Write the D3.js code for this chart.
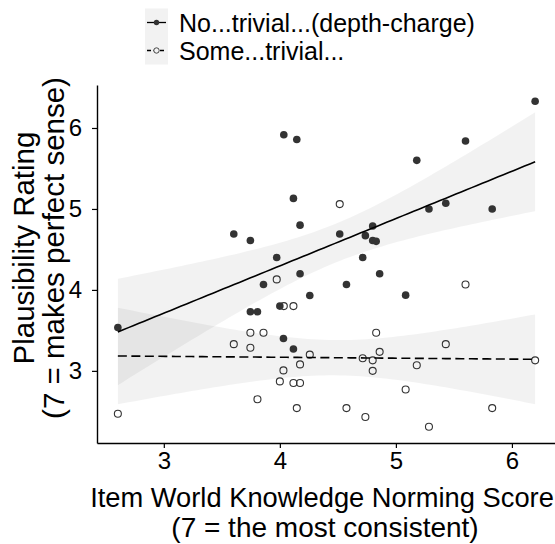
<!DOCTYPE html>
<html>
<head>
<meta charset="utf-8">
<script src="https://cdn.jsdelivr.net/npm/d3@7"></script>
<style>
  body { margin: 0; background: #fff; }
  svg { display: block; font-family: 'Liberation Sans', Arial, Helvetica, sans-serif; }
</style>
</head>
<body>
<svg id="chart" width="555" height="544"></svg>
<script>
// item world-knowledge norming score (shared by both conditions)
var normScore = [2.604, 3.603, 3.746, 3.746, 3.807, 3.859, 3.973, 4.00, 4.031, 4.034,
  4.117, 4.117, 4.146, 4.174, 4.174, 4.258, 4.516, 4.574, 4.714, 4.737,
  4.80, 4.80, 4.83, 4.86, 5.084, 5.18, 5.285, 5.43, 5.60, 5.83, 6.20]
// mean plausibility rating per item
var ratingNoTrivial = [3.536, 4.69, 4.61, 3.73, 3.73, 4.067, 4.40, 3.80, 3.40, 5.916,
  5.13, 3.27, 5.858, 4.80, 4.20, 3.93, 4.69, 4.067, 4.40, 4.67,
  4.79, 4.61, 4.60, 4.20, 3.935, 5.60, 5.00, 5.07, 5.84, 5.00, 6.33]
var ratingSomeTrivial = [2.47, 3.33, 3.47, 3.285, 2.65, 3.47, 4.13, 2.87, 3.006, 3.80,
  3.80, 2.85, 2.54, 3.08, 2.85, 3.20, 5.06, 2.54, 3.155, 2.43,
  3.13, 3.00, 3.47, 3.235, 2.77, 3.07, 2.31, 3.33, 4.067, 2.54, 3.13]
var seriesNames = ['No...trivial...(depth-charge)', 'Some...trivial...']
var xTicks = [3, 4, 5, 6]
var yTicks = [3, 4, 5, 6]

;(function () {
  'use strict'

  var margin = { top: 85, bottom: 101, left: 97 }
  var panelRight = 556
  var panelBottom = 544 - margin.bottom
  var ink = '#333333'

  var svg = d3.select('#chart')

  function tQuantile975 (df) {
    // Cornish-Fisher expansion around the normal quantile
    var z = 1.959964
    return z + (Math.pow(z, 3) + z) / (4 * df) +
      (5 * Math.pow(z, 5) + 16 * Math.pow(z, 3) + 3 * z) / (96 * df * df)
  }

  /**
   * Least squares fit with a 95% confidence band, like geom_smooth(method = 'lm').
   */
  function fitLm (xs, ys) {
    var n = xs.length
    var xbar = d3.mean(xs)
    var ybar = d3.mean(ys)
    var sxx = d3.sum(xs, function (x) { return (x - xbar) * (x - xbar) })
    var sxy = d3.sum(xs, function (x, i) { return (x - xbar) * (ys[i] - ybar) })
    var slope = sxy / sxx
    var intercept = ybar - slope * xbar
    var sse = d3.sum(xs, function (x, i) {
      var r = ys[i] - (intercept + slope * x)
      return r * r
    })
    var s = Math.sqrt(sse / (n - 2))
    var t = tQuantile975(n - 2)
    return d3.range(80).map(function (i) {
      var x = d3.min(xs) + (d3.max(xs) - d3.min(xs)) * i / 79
      var fit = intercept + slope * x
      var se = s * Math.sqrt(1 / n + (x - xbar) * (x - xbar) / sxx)
      return { x: x, y: fit, lo: fit - t * se, hi: fit + t * se }
    })
  }

  var allY = ratingNoTrivial.concat(ratingSomeTrivial)
  var xExt = d3.extent(normScore)
  var yExt = d3.extent(allY)
  var xPad = (xExt[1] - xExt[0]) * 0.05
  var yPad = (yExt[1] - yExt[0]) * 0.05

  var x = d3.scaleLinear()
    .domain([xExt[0] - xPad, xExt[1] + xPad])
    .range([margin.left, panelRight])
  var y = d3.scaleLinear()
    .domain([yExt[0] - yPad, yExt[1] + yPad])
    .range([panelBottom, margin.top])

  var series = [
    { name: seriesNames[0], values: ratingNoTrivial, filled: true, dash: null },
    { name: seriesNames[1], values: ratingSomeTrivial, filled: false, dash: '9,4.5' }
  ]
  series.forEach(function (s) { s.fit = fitLm(normScore, s.values) })

  var area = d3.area()
    .x(function (d) { return x(d.x) })
    .y0(function (d) { return y(d.lo) })
    .y1(function (d) { return y(d.hi) })
  var line = d3.line()
    .x(function (d) { return x(d.x) })
    .y(function (d) { return y(d.y) })

  svg.append('g').selectAll('path')
    .data(series)
    .enter().append('path')
    .attr('d', function (s) { return area(s.fit) })
    .attr('fill', '#000')
    .attr('fill-opacity', 0.05)

  series.forEach(function (s) {
    svg.append('g').selectAll('circle')
      .data(s.values)
      .enter().append('circle')
      .attr('cx', function (d, i) { return x(normScore[i]) })
      .attr('cy', function (d) { return y(d) })
      .attr('r', s.filled ? 3.8 : 3.5)
      .attr('fill', s.filled ? ink : 'none')
      .attr('stroke', ink)
      .attr('stroke-width', s.filled ? 0 : 1.1)
  })

  svg.append('g').selectAll('path')
    .data(series)
    .enter().append('path')
    .attr('d', function (s) { return line(s.fit) })
    .attr('fill', 'none')
    .attr('stroke', '#000')
    .attr('stroke-width', 1.6)
    .attr('stroke-dasharray', function (s) { return s.dash })

  // axes
  var fmt = d3.format('d')
  var xAxis = svg.append('g')
    .attr('transform', 'translate(0,' + panelBottom + ')')
    .call(d3.axisBottom(x).tickValues(xTicks).tickFormat(fmt).tickSize(5).tickSizeOuter(0).tickPadding(4))
  var yAxis = svg.append('g')
    .attr('transform', 'translate(' + margin.left + ',0)')
    .call(d3.axisLeft(y).tickValues(yTicks).tickFormat(fmt).tickSize(5).tickSizeOuter(0).tickPadding(10))
  ;[xAxis, yAxis].forEach(function (g) {
    g.select('.domain').attr('stroke', '#000').attr('stroke-width', 1.4)
    g.selectAll('.tick line').attr('stroke', '#000').attr('stroke-width', 1.2)
    g.selectAll('.tick text')
      .attr('fill', '#000')
      .style('font-size', '24px')
      .style('font-family', "'Liberation Sans', Arial, sans-serif")
  })

  // axis titles
  var cx = 322
  var cy = 248
  svg.append('text')
    .attr('x', cx).attr('y', 507)
    .attr('text-anchor', 'middle')
    .style('font-size', '27.3px')
    .text('Item World Knowledge Norming Score')
  svg.append('text')
    .attr('x', cx + 3).attr('y', 537)
    .attr('text-anchor', 'middle')
    .style('font-size', '28px')
    .text('(7 = the most consistent)')
  svg.append('text')
    .attr('transform', 'translate(34,' + cy + ') rotate(-90)')
    .attr('text-anchor', 'middle')
    .style('font-size', '29.5px')
    .text('Plausibility Rating')
  svg.append('text')
    .attr('transform', 'translate(64,' + cy + ') rotate(-90)')
    .attr('text-anchor', 'middle')
    .style('font-size', '29.5px')
    .text('(7 = makes perfect sense)')

  // legend
  var legend = svg.append('g').attr('transform', 'translate(145,8.5)')
  legend.append('rect')
    .attr('width', 23).attr('height', 56)
    .attr('fill', '#f2f2f2')
  var rows = legend.selectAll('g.row')
    .data(series)
    .enter().append('g')
    .attr('class', 'row')
    .attr('transform', function (d, i) { return 'translate(0,' + (14 + i * 28) + ')' })
  rows.append('line')
    .attr('x1', 2).attr('x2', 21)
    .attr('stroke', '#000')
    .attr('stroke-width', 1.3)
    .attr('stroke-dasharray', function (d) { return d.dash ? '4,2.5' : null })
  rows.append('circle')
    .attr('cx', 11.5)
    .attr('r', 2.7)
    .attr('fill', function (d) { return d.filled ? ink : '#f2f2f2' })
    .attr('stroke', ink)
    .attr('stroke-width', function (d) { return d.filled ? 0 : 0.9 })
  rows.append('text')
    .attr('x', 34)
    .attr('y', 9)
    .style('font-size', '25px')
    .text(function (d) { return d.name })
})()
</script>
</body>
</html>
